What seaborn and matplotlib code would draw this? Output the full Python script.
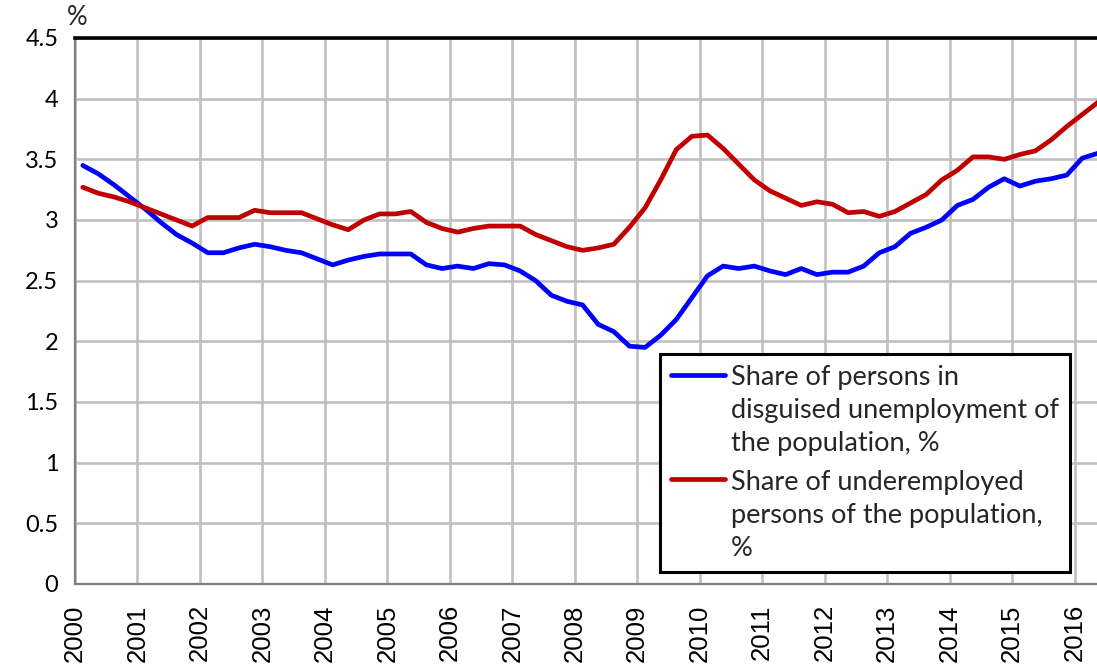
import numpy as np
import pandas as pd
import matplotlib
matplotlib.use("Agg")
import matplotlib.pyplot as plt
import seaborn as sns

# Quarterly data, 2000 Q1 .. 2016 Q2
disguised = [3.45, 3.38, 3.29, 3.19, 3.09, 2.98, 2.88, 2.81, 2.73, 2.73, 2.77, 2.80,
             2.78, 2.75, 2.73, 2.68, 2.63, 2.67, 2.70, 2.72, 2.72, 2.72, 2.63, 2.60,
             2.62, 2.60, 2.64, 2.63, 2.58, 2.50, 2.38, 2.33, 2.30, 2.14, 2.08, 1.96,
             1.95, 2.05, 2.18, 2.36, 2.54, 2.62, 2.60, 2.62, 2.58, 2.55, 2.60, 2.55,
             2.57, 2.57, 2.62, 2.73, 2.78, 2.89, 2.94, 3.00, 3.12, 3.17, 3.27, 3.34,
             3.28, 3.32, 3.34, 3.37, 3.51, 3.55]
underemployed = [3.27, 3.22, 3.19, 3.15, 3.10, 3.05, 3.00, 2.95, 3.02, 3.02, 3.02, 3.08,
                 3.06, 3.06, 3.06, 3.01, 2.96, 2.92, 3.00, 3.05, 3.05, 3.07, 2.98, 2.93,
                 2.90, 2.93, 2.95, 2.95, 2.95, 2.88, 2.83, 2.78, 2.75, 2.77, 2.80, 2.94,
                 3.10, 3.33, 3.58, 3.69, 3.70, 3.59, 3.46, 3.33, 3.24, 3.18, 3.12, 3.15,
                 3.13, 3.06, 3.07, 3.03, 3.07, 3.14, 3.21, 3.33, 3.41, 3.52, 3.52, 3.50,
                 3.54, 3.57, 3.66, 3.77, 3.87, 3.97]
years = list(range(2000, 2017))
y_ticks = [0, 0.5, 1, 1.5, 2, 2.5, 3, 3.5, 4, 4.5]
y_tick_labels = ["0", "0.5", "1", "1.5", "2", "2.5", "3", "3.5", "4", "4.5"]
label_disguised = "Share of persons in\ndisguised unemployment of\nthe population, %"
label_under = "Share of underemployed\npersons of the population,\n%"

quarter = np.arange(len(disguised))
t = 2000 + (quarter + 0.5) / 4.0

df = pd.DataFrame({
    "t": np.concatenate([t, t]),
    "value": disguised + underemployed,
    "series": [label_disguised] * len(t) + [label_under] * len(t),
})

sns.set_style("white")
plt.rcParams["font.family"] = ["Lato", "DejaVu Sans"]

fig = plt.figure(figsize=(10.97, 6.66), dpi=100)
ax = fig.add_axes([75 / 1097, 1 - 584 / 666, 1 - 75 / 1097, (584 - 38) / 666])

sns.lineplot(data=df, x="t", y="value", hue="series",
             palette={label_disguised: "#0000FF", label_under: "#C00000"},
             linewidth=3.4, ax=ax, legend=True, zorder=3)

ax.set_xlim(2000, 2016.36)
ax.set_ylim(0, 4.5)
ax.set_xticks(years)
ax.set_xticklabels([str(y) for y in years], rotation=90,
                   fontfamily="Liberation Sans", fontsize=18.5)
ax.set_yticks(y_ticks)
ax.set_yticklabels(y_tick_labels, fontsize=17)
ax.set_xlabel("")
ax.set_ylabel("")

ax.grid(True, color="#c0c0c0", linewidth=1.9, zorder=0)
ax.set_axisbelow(True)

for s in ["left", "bottom"]:
    ax.spines[s].set_color("#7f7f7f")
    ax.spines[s].set_linewidth(1.6)
ax.spines["right"].set_visible(False)
ax.spines["top"].set_color("black")
ax.spines["top"].set_linewidth(2.6)

ax.tick_params(axis="both", direction="out", width=1.3, length=6, colors="black")
ax.tick_params(axis="x", pad=8, length=6.5)
ax.tick_params(axis="y", pad=6)
for tk in ax.xaxis.get_major_ticks() + ax.yaxis.get_major_ticks():
    tk.tick1line.set_markeredgecolor("#7f7f7f")

ax.text(-0.008, 1.015, "%", transform=ax.transAxes, fontsize=18.5,
        ha="left", va="bottom")

handles, labels = ax.get_legend_handles_labels()
leg = ax.legend(handles, labels, loc="lower left",
                bbox_to_anchor=(0.572, 0.022), borderaxespad=0,
                fontsize=19.5, frameon=True, fancybox=False,
                handlelength=2.0, handletextpad=0.2, borderpad=0.42,
                labelspacing=0.5, title=None)
leg.get_frame().set_edgecolor("black")
leg.get_frame().set_linewidth(2.2)
leg.get_frame().set_facecolor("white")
leg.get_frame().set_alpha(1)
for line in leg.get_lines():
    line.set_linewidth(3.4)
for txt in leg.get_texts():
    txt.set_linespacing(1.4)
# put each handle level with the first line of its label
for col in leg._legend_handle_box.get_children():
    for row in col.get_children():
        row.align = "top"

fig.savefig("out.png", dpi=100)
